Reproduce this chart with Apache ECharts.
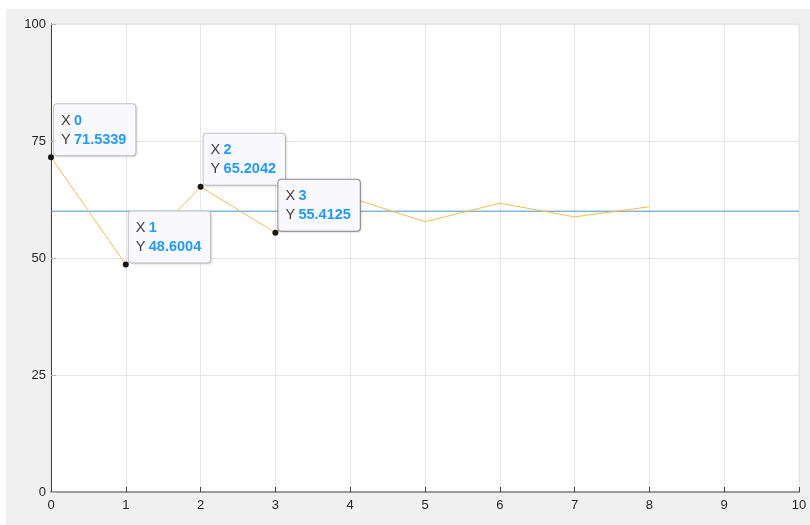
<!DOCTYPE html>
<html>
<head>
<meta charset="utf-8">
<script src="https://cdn.jsdelivr.net/npm/echarts@6/dist/echarts.min.js"></script>
<style>
  html, body { margin: 0; padding: 0; background: #ffffff; }
  #panel { position: absolute; left: 6px; top: 9px; width: 804px; height: 516px; background: #f0f0f0; }
  #chart { position: absolute; left: 0; top: 0; width: 810px; height: 525px; }
</style>
</head>
<body>
<div id="panel"></div>
<div id="chart"></div>
<script>
// Step response samples
const steps = [0, 1, 2, 3, 4, 5, 6, 7, 8];
const response = [71.5339, 48.6004, 65.2042, 55.4125, 62.9, 57.75, 61.7, 58.8, 60.95];
// Indices that carry a data tip
const tipIndices = [0, 1, 2, 3];
// Reference level
const setpoint = 60;
// Axis ticks
const xTicks = [0, 1, 2, 3, 4, 5, 6, 7, 8, 9, 10];
const yTicks = [0, 25, 50, 75, 100];

const font = '"Liberation Sans", Arial, Helvetica, sans-serif';

const seriesData = steps.map((x, i) => {
  const tipped = tipIndices.includes(i);
  const item = { value: [x, response[i]] };
  if (tipped) {
    item.symbol = 'circle';
    item.symbolSize = 6;
    item.label = {
      show: true,
      borderColor: i === 3 ? '#8c8c8c' : '#c4c4c4'
    };
  } else {
    item.symbol = 'none';
  }
  return item;
});

// Horizontal reference line spanning the full x range
const setpointLine = [[xTicks[0], setpoint], [xTicks[xTicks.length - 1], setpoint]];

const chart = echarts.init(document.getElementById('chart'), null, { renderer: 'canvas' });
chart.setOption({
  animation: false,
  backgroundColor: 'transparent',
  grid: {
    left: 51, top: 24, right: 11, bottom: 33,
    show: true, backgroundColor: '#ffffff', borderColor: '#e2e2e2', borderWidth: 1
  },
  xAxis: {
    type: 'value',
    min: xTicks[0], max: xTicks[xTicks.length - 1], interval: 1,
    axisLine: { show: true, onZero: false, lineStyle: { color: '#9a9a9a', width: 2 } },
    axisTick: { show: true, inside: true, length: 5, lineStyle: { color: '#404040' } },
    axisLabel: { color: '#262626', fontFamily: font, fontSize: 13, margin: 7 },
    splitLine: { show: true, lineStyle: { color: '#e6e6e6', width: 1 } }
  },
  yAxis: {
    type: 'value',
    min: yTicks[0], max: yTicks[yTicks.length - 1], interval: 25,
    axisLine: { show: true, onZero: false, lineStyle: { color: '#404040', width: 1 } },
    axisTick: { show: true, inside: true, length: 5, lineStyle: { color: '#b0b0b0' } },
    axisLabel: { color: '#262626', fontFamily: font, fontSize: 13, margin: 5 },
    splitLine: { show: true, lineStyle: { color: '#e6e6e6', width: 1 } }
  },
  series: [
    {
      type: 'line',
      z: 1,
      data: setpointLine,
      symbol: 'none',
      silent: true,
      lineStyle: { color: '#4f93c4', width: 1 }
    },
    {
      type: 'line',
      z: 3,
      data: seriesData,
      lineStyle: { color: '#efc052', width: 1 },
      itemStyle: { color: '#161616', borderWidth: 0 },
      label: {
        show: false,
        position: [6, 1],
        align: 'left',
        verticalAlign: 'bottom',
        backgroundColor: '#f9f9fd',
        borderColor: '#c4c4c4',
        borderWidth: 1,
        borderRadius: 3,
        padding: [7, 9, 6, 7],
        shadowColor: 'rgba(0,0,0,0.10)',
        shadowBlur: 2,
        shadowOffsetX: 1,
        shadowOffsetY: 1,
        fontFamily: font,
        lineHeight: 19,
        formatter: p => '{k|X} {v|' + p.value[0] + '}\n{k|Y} {v|' + p.value[1] + '}',
        rich: {
          k: { color: '#404040', fontSize: 14.5, fontFamily: font, lineHeight: 19 },
          v: { color: '#1f9bff', fontSize: 14.5, fontWeight: 'bold', fontFamily: font, lineHeight: 19 }
        }
      }
    }
  ]
});
</script>
</body>
</html>
